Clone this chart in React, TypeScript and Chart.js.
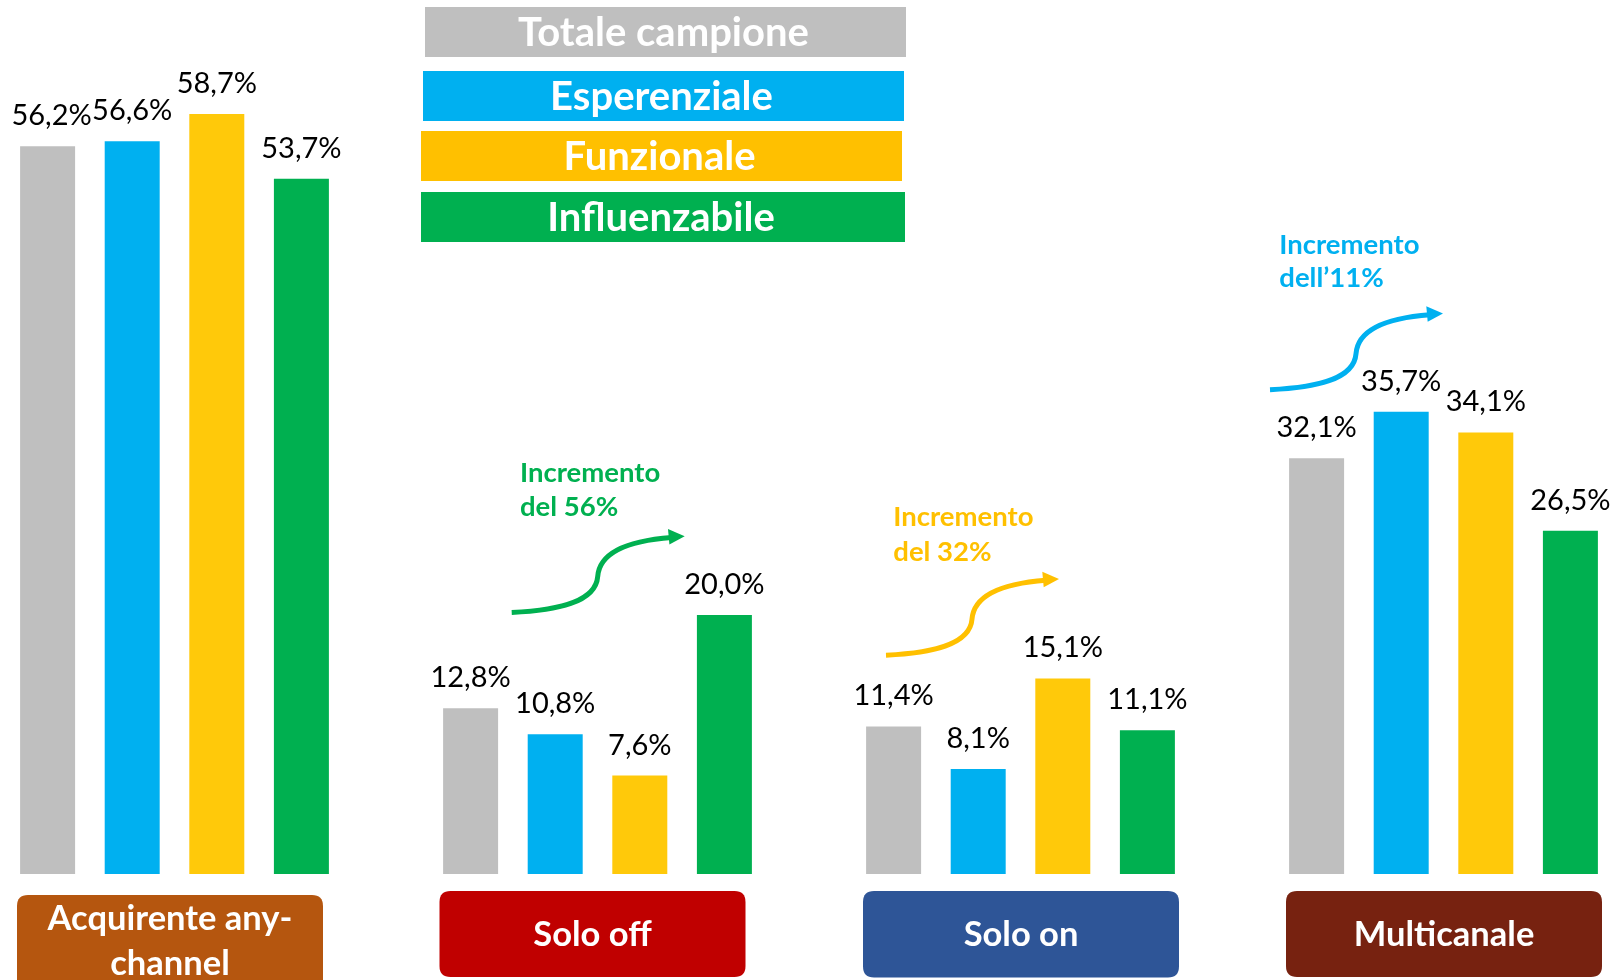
import React, { useEffect, useRef } from "react";
import { Chart, registerables } from "chart.js";

Chart.register(...registerables);

// ---------- data ----------
const categories = ["Acquirente any-channel", "Solo off", "Solo on", "Multicanale"];
const categoryLines = [["Acquirente any-", "channel"], ["Solo off"], ["Solo on"], ["Multicanale"]];
const seriesNames = ["Totale campione", "Esperenziale", "Funzionale", "Influenzabile"];
const totaleCampione = [56.2, 12.8, 11.4, 32.1];
const esperenziale = [56.6, 10.8, 8.1, 35.7];
const funzionale = [58.7, 7.6, 15.1, 34.1];
const influenzabile = [53.7, 20.0, 11.1, 26.5];
const increaseLines = [["Incremento", "del 56%"], ["Incremento", "del 32%"], ["Incremento", "dell\u201911%"]];
const increaseCategory = [1, 2, 3];
const increaseSeries = [3, 2, 1];
const increaseStartValue = [20.2, 16.9, 37.4];

// ---------- styles ----------
const BAR_COLORS = ["#BFBFBF", "#00B0F0", "#FFC90A", "#00B050"];
const LEGEND_COLORS = ["#BFBFBF", "#00B0F0", "#FFC000", "#00B050"];
const ANNOT_COLORS = ["#BFBFBF", "#00B0F0", "#FFC000", "#00B050"];
const BOX_COLORS = ["#B5560F", "#C00000", "#2E5597", "#772210"];
const CANVAS_SHIFT = 37;
const CANVAS_W = 1692;
const CANVAS_H = 980;
const LEGEND_BOXES = [
  { x: 425, y: 7, w: 481, h: 50 },
  { x: 423, y: 71, w: 481, h: 50 },
  { x: 421, y: 131, w: 481, h: 50 },
  { x: 421, y: 192, w: 484, h: 50 },
];
const BOX_STYLE = [
  { dx: -4.5, w: 306, top: 895, bottom: 1000, lines: [930, 975] },
  { dx: -5, w: 306, top: 891, bottom: 977, lines: [946] },
  { dx: 0.5, w: 316, top: 891, bottom: 977.5, lines: [946] },
  { dx: 0.5, w: 316, top: 891, bottom: 977, lines: [946] },
];
const ANNOT_STYLE = [
  { dx: -85.8, tdx: 8.3, l1: -130, l2: -96.6 },
  { dx: -134.5, tdx: 7.3, l1: -128.7, l2: -94 },
  { dx: -173.5, tdx: 9.3, l1: -135.7, l2: -102.3 },
];

function rr(ctx: CanvasRenderingContext2D, x: number, y: number, w: number, h: number, r: number) {
  ctx.beginPath();
  ctx.moveTo(x + r, y);
  ctx.lineTo(x + w - r, y);
  ctx.quadraticCurveTo(x + w, y, x + w, y + r);
  ctx.lineTo(x + w, y + h - r);
  ctx.quadraticCurveTo(x + w, y + h, x + w - r, y + h);
  ctx.lineTo(x + r, y + h);
  ctx.quadraticCurveTo(x, y + h, x, y + h - r);
  ctx.lineTo(x, y + r);
  ctx.quadraticCurveTo(x, y, x + r, y);
  ctx.closePath();
}

const overlayPlugin = {
  id: "overlay",
  afterDatasetsDraw(chart: any) {
    const ctx: CanvasRenderingContext2D = chart.ctx;
    const xs = chart.scales.x;
    const ys = chart.scales.y;
    ctx.save();

    // value labels
    ctx.fillStyle = "#000000";
    ctx.font = "29px Lato";
    ctx.textAlign = "center";
    ctx.textBaseline = "alphabetic";
    chart.data.datasets.forEach((ds: any, di: number) => {
      const meta = chart.getDatasetMeta(di);
      meta.data.forEach((bar: any, i: number) => {
        const v = ds.data[i];
        const txt = v.toFixed(1).replace(".", ",") + "%";
        const nudge = di === 0 && i === 0 ? 4 : 0;
        ctx.fillText(txt, bar.x + nudge, bar.y - 21);
      });
    });

    // legend boxes
    seriesNames.forEach((name, i) => {
      const b = LEGEND_BOXES[i];
      ctx.fillStyle = LEGEND_COLORS[i];
      ctx.fillRect(b.x + CANVAS_SHIFT, b.y, b.w, b.h);
      ctx.fillStyle = "#FFFFFF";
      ctx.font = "bold 40px Lato";
      ctx.textAlign = "center";
      ctx.textBaseline = "alphabetic";
      ctx.fillText(name, b.x + CANVAS_SHIFT + b.w / 2 - 2, b.y + b.h / 2 + 14);
    });

    // category boxes
    categories.forEach((_c, i) => {
      const s = BOX_STYLE[i];
      const cx = xs.getPixelForValue(i) + s.dx;
      ctx.fillStyle = BOX_COLORS[i];
      rr(ctx, cx - s.w / 2, s.top, s.w, s.bottom - s.top, 11);
      ctx.fill();
      ctx.fillStyle = "#FFFFFF";
      ctx.font = "bold 34.5px Lato";
      ctx.textAlign = "center";
      ctx.textBaseline = "alphabetic";
      categoryLines[i].forEach((ln, k) => {
        ctx.fillText(ln, cx, s.lines[k]);
      });
    });

    // increase annotations
    increaseLines.forEach((lines, a) => {
      const st = ANNOT_STYLE[a];
      const color = ANNOT_COLORS[increaseSeries[a]];
      const sx = xs.getPixelForValue(increaseCategory[a]) + st.dx;
      const sy = ys.getPixelForValue(increaseStartValue[a]);
      ctx.fillStyle = color;
      ctx.font = "bold 27.5px Lato";
      ctx.textAlign = "left";
      ctx.textBaseline = "alphabetic";
      ctx.fillText(lines[0], sx + st.tdx, sy + st.l1);
      ctx.fillText(lines[1], sx + st.tdx, sy + st.l2);

      ctx.strokeStyle = color;
      ctx.lineWidth = 5;
      ctx.lineCap = "butt";
      ctx.beginPath();
      ctx.moveTo(sx, sy);
      ctx.bezierCurveTo(sx + 45, sy - 2, sx + 84, sy - 10, sx + 86, sy - 36);
      ctx.bezierCurveTo(sx + 88, sy - 62, sx + 120, sy - 72, sx + 160, sy - 75);
      ctx.stroke();
      ctx.beginPath();
      ctx.moveTo(sx + 173, sy - 76.3);
      ctx.lineTo(sx + 157.7, sy - 68);
      ctx.lineTo(sx + 156.3, sy - 83.5);
      ctx.closePath();
      ctx.fill();
    });

    ctx.restore();
  },
};

export default function App() {
  const ref = useRef<HTMLCanvasElement | null>(null);
  useEffect(() => {
    if (!ref.current) return;
    const series = [totaleCampione, esperenziale, funzionale, influenzabile];
    const chart = new Chart(ref.current, {
      type: "bar",
      data: {
        labels: categories,
        datasets: series.map((d, i) => ({
          label: seriesNames[i],
          data: d,
          backgroundColor: BAR_COLORS[i],
          borderWidth: 0,
          barPercentage: 0.65,
          categoryPercentage: 0.8,
        })),
      },
      options: {
        responsive: false,
        animation: false,
        devicePixelRatio: 1,
        layout: { padding: { top: 0, bottom: CANVAS_H - 874, left: 0, right: 0 } },
        plugins: { legend: { display: false }, tooltip: { enabled: false } },
        scales: {
          x: { display: false },
          y: { display: false, min: 0, max: 67.5 },
        },
      },
      plugins: [overlayPlugin],
    });
    return () => chart.destroy();
  }, []);
  return (
    <div
      style={{
        position: "fixed",
        left: 0,
        top: 0,
        width: 1614,
        height: 980,
        overflow: "hidden",
        background: "#FFFFFF",
      }}
    >
      <canvas
        ref={ref}
        width={CANVAS_W}
        height={CANVAS_H}
        style={{ position: "absolute", left: -CANVAS_SHIFT, top: 0, width: CANVAS_W, height: CANVAS_H }}
      />
    </div>
  );
}
